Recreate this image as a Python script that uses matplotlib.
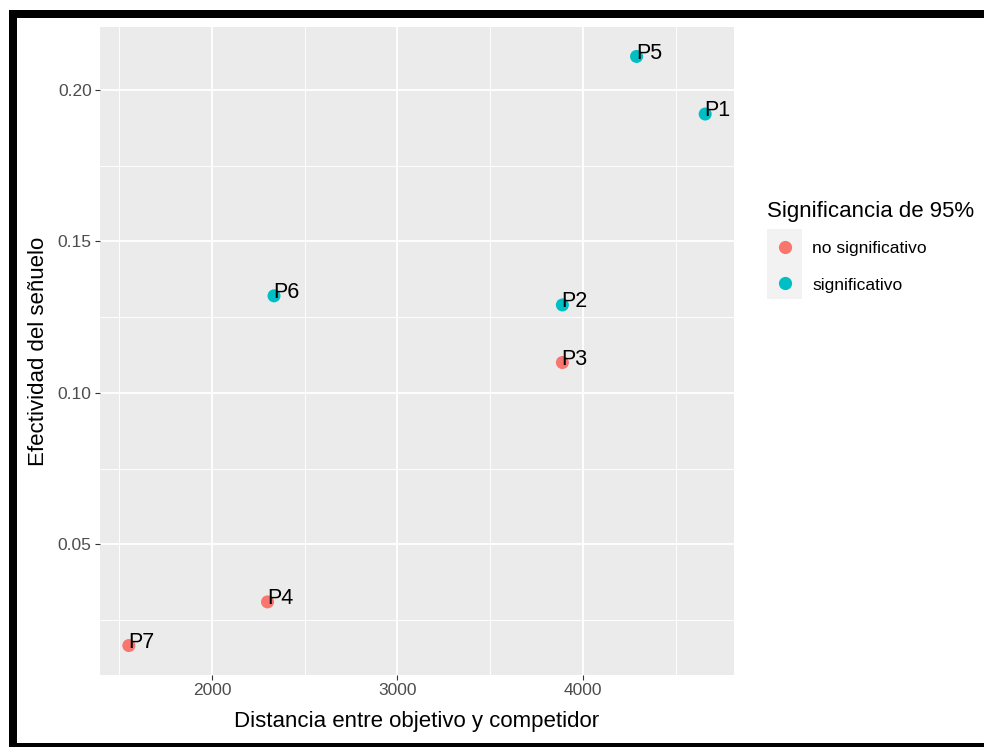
import matplotlib
matplotlib.use("Agg")
import matplotlib.pyplot as plt
from matplotlib.patches import Rectangle
from matplotlib.lines import Line2D
from matplotlib.ticker import MultipleLocator

plt.rcParams['font.family'] = ['Liberation Sans', 'DejaVu Sans']

# Data
labels = ["P1", "P2", "P3", "P4", "P5", "P6", "P7"]
distancia = [4660, 3890, 3890, 2300, 4290, 2335, 1552]
efectividad = [0.192, 0.129, 0.110, 0.031, 0.211, 0.132, 0.0166]
significancia = ["significativo", "significativo", "no significativo", "no significativo",
                 "significativo", "significativo", "no significativo"]
categorias = ["no significativo", "significativo"]
colores = {"no significativo": "#F8766D", "significativo": "#00BFC4"}

W, H = 984, 747
fig = plt.figure(figsize=(W / 100, H / 100), dpi=100)
fig.patch.set_facecolor("white")

# panel in pixel coords
L, R, T, B = 100, 734, 27, 675
ax = fig.add_axes([L / W, 1 - B / H, (R - L) / W, (B - T) / H])
ax.set_facecolor("#EBEBEB")
for s in ax.spines.values():
    s.set_visible(False)

for cat in categorias:
    xs = [x for x, c in zip(distancia, significancia) if c == cat]
    ys = [y for y, c in zip(efectividad, significancia) if c == cat]
    ax.scatter(xs, ys, s=88, color=colores[cat], edgecolors="none", zorder=3)

for lab, x, y in zip(labels, distancia, efectividad):
    ax.annotate(lab, (x, y), xytext=(-0.5, -1.5), textcoords="offset points",
                ha="left", va="baseline", fontsize=15.5, color="black", zorder=4)

ax.margins(0.05)
ax.xaxis.set_minor_locator(MultipleLocator(500))
ax.yaxis.set_minor_locator(MultipleLocator(0.025))
ax.set_xticks([2000, 3000, 4000])
ax.set_xticklabels(["2000", "3000", "4000"])
ax.set_yticks([0.05, 0.10, 0.15, 0.20])
ax.set_yticklabels(["0.05", "0.10", "0.15", "0.20"])
ax.grid(which="major", color="white", linewidth=1.3)
ax.grid(which="minor", color="white", linewidth=0.65)
ax.set_axisbelow(True)
ax.tick_params(which="major", length=3.5, width=0.8, color="#333333",
               labelsize=12.5, labelcolor="#4D4D4D", pad=2.5)
ax.tick_params(which="minor", length=0)

fig.text(417 / W, 1 - 722 / H, "Distancia entre objetivo y competidor",
         ha="center", va="center", fontsize=16, color="black")
fig.text(39 / W, 1 - 351 / H, "Efectividad del señuelo", rotation=90,
         ha="center", va="center", fontsize=16, color="black")

# Legend (manual)
fig.text(767 / W, 1 - 212 / H, "Significancia de 95%", ha="left", va="center",
         fontsize=16, color="black")
fig.add_artist(Rectangle((767 / W, 1 - 299 / H), 35 / W, 70 / H,
                         transform=fig.transFigure, facecolor="#F2F2F2",
                         edgecolor="none"))
for i, cat in enumerate(categorias):
    yk = 247 + i * 36
    fig.add_artist(Line2D([785 / W], [1 - yk / H], marker="o", markersize=9.5,
                          color=colores[cat], markeredgewidth=0, linestyle="none",
                          transform=fig.transFigure))
    fig.text(812 / W, 1 - (yk + 2) / H, cat, ha="left", va="center",
             fontsize=12.5, color="black")

# black frame
fig.add_artist(Rectangle((9 / W, 0), 8 / W, 1 - 10 / H, transform=fig.transFigure,
                         facecolor="black", edgecolor="none"))
fig.add_artist(Rectangle((9 / W, 1 - 18 / H), 1 - 9 / W, 8 / H, transform=fig.transFigure,
                         facecolor="black", edgecolor="none"))
fig.add_artist(Rectangle((9 / W, 0), 1 - 9 / W, 4 / H, transform=fig.transFigure,
                         facecolor="black", edgecolor="none"))

fig.savefig("out.png", dpi=100)
